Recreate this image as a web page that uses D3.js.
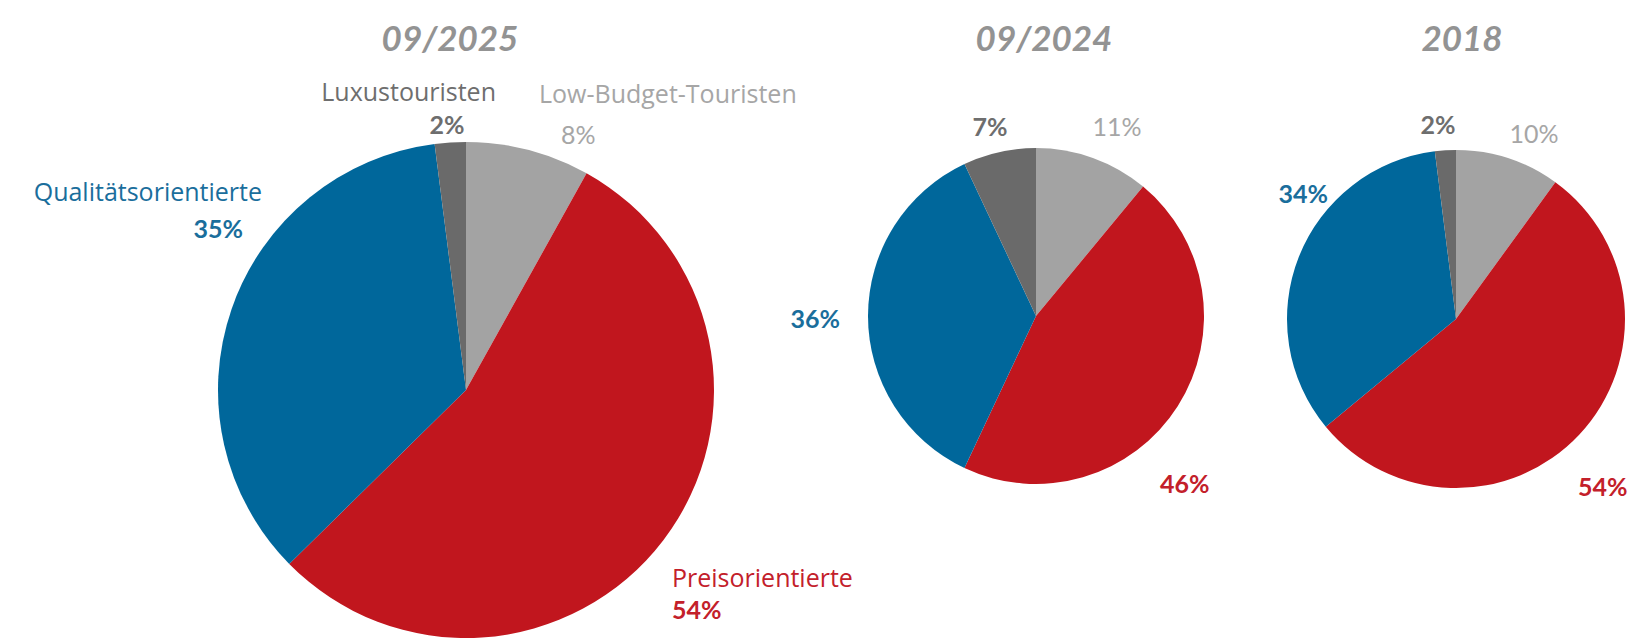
<!DOCTYPE html>
<html>
<head>
<meta charset="utf-8">
<script src="https://cdn.jsdelivr.net/npm/d3@7"></script>
<style>
  body { margin: 0; background: #fff; }
  svg { display: block; font-family: "Open Sans", sans-serif; }
</style>
</head>
<body>
<svg width="1632" height="640"></svg>
<script>
// data
const categories = ["Low-Budget-Touristen", "Preisorientierte", "Qualitätsorientierte", "Luxustouristen"];
const periods = ["09/2025", "09/2024", "2018"];
const values2025 = [8, 54, 35, 2];
const values2024 = [11, 46, 36, 7];
const values2018 = [10, 54, 34, 2];

const colors = ["#a3a3a3", "#c1161e", "#00679b", "#6a6a6a"];
const textColors = ["#a6a6a6", "#c3202a", "#1a6e9c", "#6e6e6e"];

// where each pie sits, and its label spots (per category, same order)
const layout = [
    { cx: 466, cy: 390, r: 248, titleX: 450,
      labels: [
          { x: 539, y: 103, name: true, px: 561, py: 144, anchor: "start" },
          { x: 672, y: 587, name: true, px: 672, py: 619, anchor: "start" },
          { x: 262, y: 201, name: true, px: 243, py: 238, anchor: "end" },
          { x: 496, y: 101, name: true, px: 447, py: 134, anchor: "middle", nameAnchor: "end" }
      ] },
    { cx: 1036, cy: 316, r: 168, titleX: 1044,
      labels: [
          { px: 1117, py: 136, anchor: "middle" },
          { px: 1160, py: 493, anchor: "start" },
          { px: 840, py: 328, anchor: "end" },
          { px: 990, py: 136, anchor: "middle" }
      ] },
    { cx: 1456, cy: 319, r: 169, titleX: 1462,
      labels: [
          { px: 1534, py: 143, anchor: "middle" },
          { px: 1578, py: 496, anchor: "start" },
          { px: 1328, py: 203, anchor: "end" },
          { px: 1438, py: 134, anchor: "middle" }
      ] }
];

const allValues = [values2025, values2024, values2018];

const svg = d3.select("svg");
const pie = d3.pie().sort(null).value(d => d);

allValues.forEach((vals, i) => {
    const L = layout[i];
    const arc = d3.arc().innerRadius(0).outerRadius(L.r);

    svg.append("text")
        .attr("x", L.titleX)
        .attr("y", 51)
        .attr("text-anchor", "middle")
        .attr("font-family", "Lato, sans-serif")
        .attr("font-size", 35)
        .attr("font-weight", 700)
        .attr("font-style", "italic")
        .attr("fill", "#939393")
        .text(periods[i]);

    svg.append("g")
        .attr("transform", `translate(${L.cx},${L.cy})`)
        .selectAll("path")
        .data(pie(vals))
        .join("path")
        .attr("d", arc)
        .attr("fill", (d, j) => colors[j]);

    const g = svg.append("g");
    vals.forEach((v, j) => {
        const lb = L.labels[j];
        if (lb.name) {
            g.append("text")
                .attr("x", lb.x)
                .attr("y", lb.y)
                .attr("text-anchor", lb.nameAnchor || lb.anchor)
                .attr("font-size", 25)
                .attr("fill", textColors[j])
                .text(categories[j]);
        }
        g.append("text")
            .attr("x", lb.px)
            .attr("y", lb.py)
            .attr("text-anchor", lb.anchor)
            .attr("font-family", "Lato, sans-serif")
            .attr("font-size", 25)
            .attr("font-weight", j === 0 ? 400 : 700)
            .attr("fill", textColors[j])
            .text(v + "%");
    });
});
</script>
</body>
</html>
